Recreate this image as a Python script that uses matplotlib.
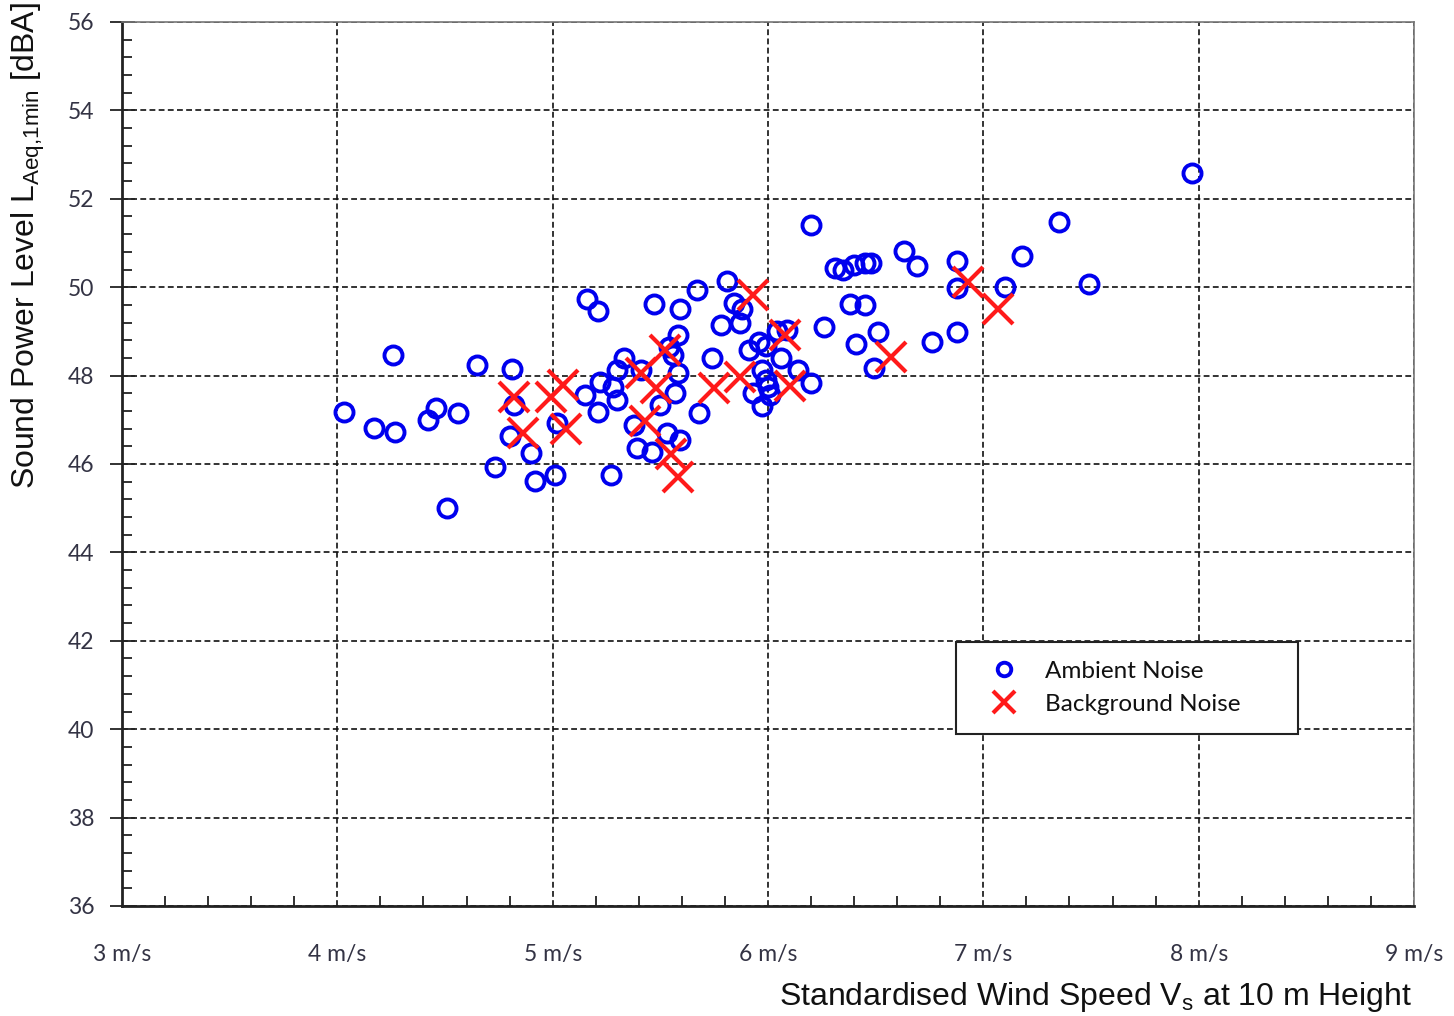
import matplotlib
matplotlib.use("Agg")
import matplotlib.pyplot as plt
from matplotlib.ticker import MultipleLocator, FuncFormatter

# Ambient noise (wind speed m/s, level dBA)
amb_x = [4.03, 4.17, 4.27, 4.26, 4.42, 4.46, 4.56, 4.51, 4.65, 4.73, 4.81, 4.82, 4.80, 4.90, 4.92, 5.01, 5.02,
         5.16, 5.21, 5.15, 5.22, 5.28, 5.30, 5.21, 5.33, 5.30, 5.41, 5.27, 5.38, 5.39, 5.46, 5.53, 5.59, 5.50,
         5.57, 5.58, 5.54, 5.56, 5.58, 5.47, 5.59, 5.67, 5.68,
         5.81, 5.84, 5.88, 5.78, 5.87, 5.74, 5.91, 5.96, 5.99, 6.06, 6.04, 6.09, 5.97, 5.99, 6.00, 5.93, 6.01,
         5.97, 6.14, 6.20,
         6.20, 6.63, 6.69, 6.31, 6.35, 6.40, 6.45, 6.48, 6.38, 6.45, 6.26, 6.51, 6.41, 6.76, 6.49, 6.88, 6.88,
         6.88, 7.10, 7.18, 7.35, 7.49, 7.97]
amb_y = [47.18, 46.81, 46.72, 48.47, 47.00, 47.27, 47.15, 45.00, 48.24, 45.93, 48.15, 47.33, 46.63, 46.25, 45.62, 45.75, 46.93,
         49.73, 49.46, 47.56, 47.86, 47.74, 47.45, 47.18, 48.40, 48.13, 48.13, 45.75, 46.88, 46.36, 46.27, 46.70, 46.54, 47.33,
         47.61, 48.06, 48.65, 48.47, 48.92, 49.62, 49.51, 49.94, 47.15,
         50.14, 49.64, 49.51, 49.14, 49.19, 48.40, 48.58, 48.76, 48.67, 48.40, 49.01, 49.03, 48.13, 47.90, 47.74, 47.61, 47.56,
         47.31, 48.13, 47.83,
         51.41, 50.82, 50.48, 50.43, 50.39, 50.50, 50.55, 50.55, 49.62, 49.60, 49.10, 48.99, 48.71, 48.76, 48.17, 50.59, 49.98,
         48.99, 50.00, 50.71, 51.48, 50.07, 52.58]

# Background noise
bg_x = [4.82, 4.86, 4.99, 5.05, 5.06, 5.41, 5.43, 5.48, 5.52, 5.55, 5.58, 5.75, 5.87, 5.93, 6.08, 6.10, 6.57, 6.93, 7.07]
bg_y = [47.52, 46.70, 47.52, 47.79, 46.79, 48.06, 46.97, 47.72, 48.58, 46.23, 45.71, 47.72, 47.97, 49.82, 48.92, 47.76,
        48.42, 50.12, 49.50]

x_ticks = [3, 4, 5, 6, 7, 8, 9]
y_ticks = [36, 38, 40, 42, 44, 46, 48, 50, 52, 54, 56]

plt.rcParams['mathtext.fontset'] = 'custom'
plt.rcParams['mathtext.rm'] = 'Liberation Sans'
plt.rcParams['mathtext.it'] = 'Liberation Sans:italic'

fig = plt.figure(figsize=(14.54, 10.16), dpi=100)
ax = fig.add_axes([122/1454, 1-906/1016, 1292/1454, 884/1016])

ax.plot(amb_x, amb_y, linestyle='none', marker='o', markersize=13, markerfacecolor='none',
        markeredgecolor='#0000ee', markeredgewidth=2.8, label='Ambient Noise', zorder=3)
ax.plot(bg_x, bg_y, linestyle='none', marker='x', markersize=21, markeredgecolor='#ff1a1a',
        markeredgewidth=3.0, label='Background Noise', zorder=4)

ax.set_xlim(3, 9)
ax.set_ylim(36, 56)
ax.set_xticks(x_ticks)
ax.set_yticks(y_ticks)
ax.xaxis.set_minor_locator(MultipleLocator(0.2))
ax.yaxis.set_minor_locator(MultipleLocator(0.4))
ax.xaxis.set_major_formatter(FuncFormatter(lambda v, p: f"{int(round(v))} m/s"))

ax.grid(True, which='major', color='#111111', linestyle=(0, (3.5, 2)), linewidth=1.2, zorder=1)
ax.set_axisbelow(True)

for lab in ax.get_xticklabels() + ax.get_yticklabels():
    lab.set_fontfamily('Lato')
    lab.set_fontsize(16.5)
    lab.set_color('#333344')

ax.tick_params(axis='x', which='major', direction='in', length=0, pad=27)
ax.tick_params(axis='x', which='minor', direction='in', length=7, width=1.3, color='#222222')
ax.tick_params(axis='y', which='major', direction='inout', length=18, width=1.3, color='#222222', pad=11)
ax.tick_params(axis='y', which='minor', direction='in', length=7, width=1.3, color='#222222')

for s in ['left', 'bottom']:
    ax.spines[s].set_color('#222222')
    ax.spines[s].set_linewidth(2.0)
for s in ['top', 'right']:
    ax.spines[s].set_color('#777777')
    ax.spines[s].set_linewidth(1.2)

leg = ax.legend(loc='upper left', bbox_to_anchor=((956-122)/1292, (906-642)/884, 342/1292, 0),
                mode='expand', borderaxespad=0, fancybox=False, framealpha=1, edgecolor='#222222',
                prop={'family': 'Lato', 'size': 17.5}, handlelength=2.4, handletextpad=0.5,
                borderpad=0.78, labelspacing=0.48, markerscale=0.75, ncol=1)
leg.get_frame().set_linewidth(1.5)
for t in leg.get_texts():
    t.set_color('#111111')

fig.text(1412/1454, 1-997/1016, r'Standardised Wind Speed V$_{\mathregular{s}}$ at 10 m Height',
         ha='right', va='center', fontsize=23, family='Liberation Sans', color='#111111')
fig.text(28/1454, 1-246/1016, r'Sound Power Level L$_{\mathregular{Aeq{,}1min}}$ [dBA]',
         ha='center', va='center', rotation=90, fontsize=23, family='Liberation Sans', color='#111111')

fig.savefig('out.png', dpi=100)
